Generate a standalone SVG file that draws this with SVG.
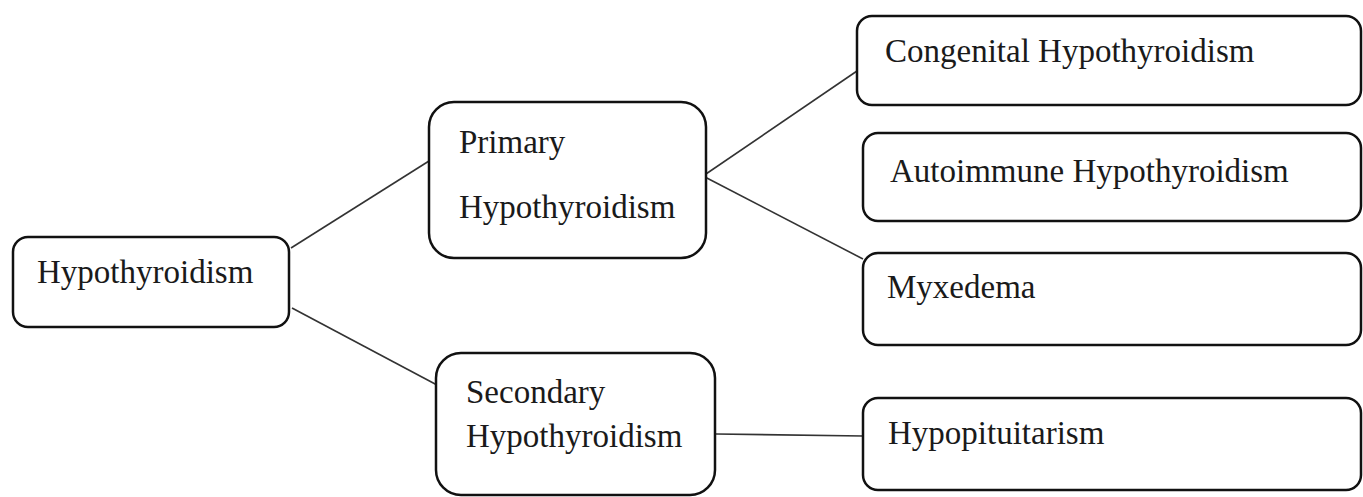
<svg xmlns="http://www.w3.org/2000/svg" width="1363" height="497" viewBox="0 0 1363 497">
<style>
.box{fill:#fff;stroke:#111;stroke-width:2.5}
.lbl{font-family:"Liberation Serif","Times New Roman",serif;font-size:33px;fill:#1a1a1a}
.con{stroke:#333;stroke-width:1.6;fill:none}
</style>
<rect width="1363" height="497" fill="#fff"/>
<g id="connectors">
<line class="con" x1="291" y1="248" x2="429" y2="161"/>
<line class="con" x1="292" y1="308" x2="437" y2="385"/>
<line class="con" x1="703" y1="176" x2="857" y2="71"/>
<line class="con" x1="703" y1="176" x2="863" y2="259"/>
<line class="con" x1="716" y1="434" x2="863" y2="436"/>
</g>
<g id="n-hypothyroidism">
<rect class="box" x="13" y="237" width="276" height="90" rx="15"/>
<text class="lbl" x="37" y="283">Hypothyroidism</text>
</g>
<g id="n-primary">
<rect class="box" x="429" y="102" width="277" height="156" rx="25"/>
<text class="lbl" x="459" y="153">Primary</text>
<text class="lbl" x="459" y="218">Hypothyroidism</text>
</g>
<g id="n-secondary">
<rect class="box" x="436" y="353" width="279" height="142" rx="25"/>
<text class="lbl" x="466" y="403">Secondary</text>
<text class="lbl" x="466" y="447">Hypothyroidism</text>
</g>
<g id="n-congenital">
<rect class="box" x="857" y="16" width="504" height="89" rx="15"/>
<text class="lbl" x="885" y="62">Congenital Hypothyroidism</text>
</g>
<g id="n-autoimmune">
<rect class="box" x="863" y="133" width="498" height="88" rx="15"/>
<text class="lbl" x="890" y="182">Autoimmune Hypothyroidism</text>
</g>
<g id="n-myxedema">
<rect class="box" x="863" y="253" width="498" height="92" rx="15"/>
<text class="lbl" x="887" y="298">Myxedema</text>
</g>
<g id="n-hypopituitarism">
<rect class="box" x="863" y="398" width="498" height="92" rx="15"/>
<text class="lbl" x="888" y="444">Hypopituitarism</text>
</g>
</svg>
